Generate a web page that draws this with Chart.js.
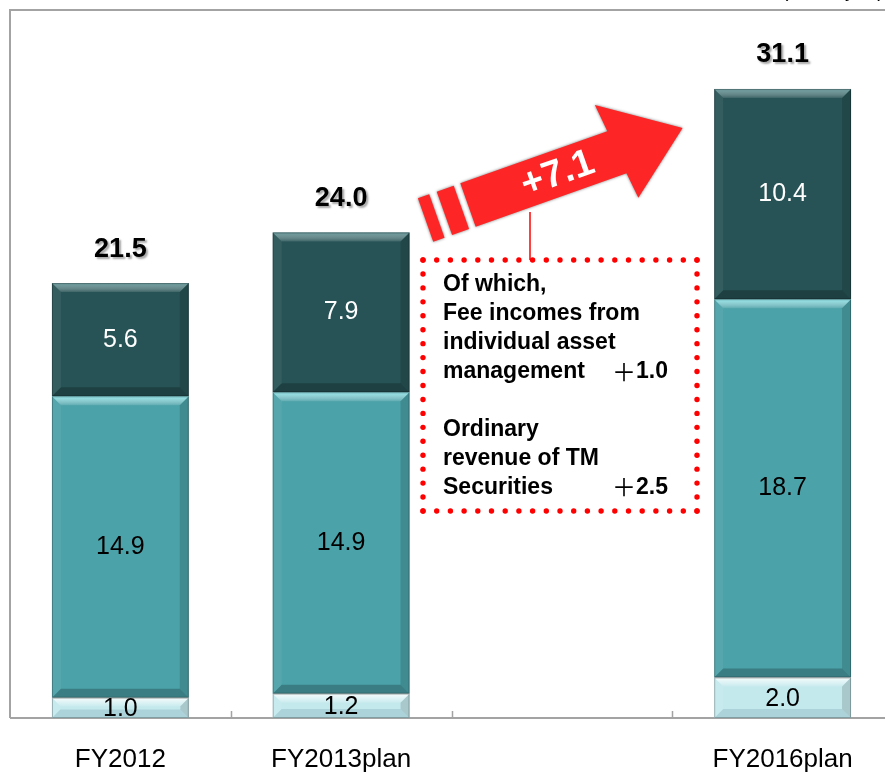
<!DOCTYPE html>
<html lang="en">
<head>
<meta charset="UTF-8">
<title>Ordinary revenue</title>
<script src="https://cdn.jsdelivr.net/npm/chart.js@4/dist/chart.umd.min.js"></script>
<style>
    html, body { margin: 0; padding: 0; background: #fff; overflow: hidden; }
    .wrap { width: 895px; height: 774px; position: relative; }
</style>
</head>
<body>
<div class="wrap">
    <canvas id="chartRevenue"></canvas>
</div>
<script>
    // values per fiscal year (the third slot is left empty as a spacer)
    var categories = ['FY2012', 'FY2013plan', '', 'FY2016plan'];
    var baseValues = [1.0, 1.2, null, 2.0];
    var midValues = [14.9, 14.9, null, 18.7];
    var topValues = [5.6, 7.9, null, 10.4];
    var totals = [21.5, 24.0, null, 31.1];

    var arrowText = '+7.1';
    var noteLines = [
        ['Of which,', ''],
        ['Fee incomes from', ''],
        ['individual asset', ''],
        ['management', '1.0'],
        ['', ''],
        ['Ordinary', ''],
        ['revenue of TM', ''],
        ['Securities', '2.5']
    ];
    var unitText = '(billion yen)';

    var colors = {
        base: '#c4e9ed',
        mid: '#4ba2a8',
        top: '#275356'
    };
    var highlights = ['rgba(255,255,255,0.85)', 'rgba(150,235,240,0.9)', 'rgba(120,170,172,0.8)'];

    var FONT = '"Liberation Sans", Arial, sans-serif';

    // bevelled look on every bar segment
    var bevel = {
        id: 'bevel',
        afterDatasetsDraw: function (chart) {
            var ctx = chart.ctx;
            chart.data.datasets.forEach(function (ds, di) {
                chart.getDatasetMeta(di).data.forEach(function (bar, i) {
                    if (ds.data[i] == null) return;
                    var p = bar.getProps(['x', 'y', 'base', 'width'], true);
                    var l = p.x - p.width / 2, r = p.x + p.width / 2;
                    var t = Math.min(p.y, p.base), b = Math.max(p.y, p.base);
                    var e = Math.min(9, (b - t) / 2.4);
                    ctx.save();
                    var g = ctx.createLinearGradient(0, t, 0, t + e);
                    g.addColorStop(0, highlights[di]);
                    g.addColorStop(1, 'rgba(255,255,255,0.1)');
                    quad(ctx, l, t, r, t, r - e, t + e, l + e, t + e, g);
                    quad(ctx, l, b, r, b, r - e, b - e, l + e, b - e, di === 0 ? 'rgba(0,60,70,0.12)' : 'rgba(0,0,0,0.22)');
                    quad(ctx, l, t, l + e, t + e, l + e, b - e, l, b, 'rgba(255,255,255,0.06)');
                    quad(ctx, r, t, r - e, t + e, r - e, b - e, r, b, 'rgba(0,0,0,0.14)');
                    ctx.strokeStyle = 'rgba(0,0,0,0.25)';
                    ctx.lineWidth = 1;
                    ctx.strokeRect(l + 0.5, t + 0.5, p.width - 1, b - t - 1);
                    ctx.restore();
                });
            });
        }
    };

    function quad(ctx, x1, y1, x2, y2, x3, y3, x4, y4, fill) {
        ctx.beginPath();
        ctx.moveTo(x1, y1);
        ctx.lineTo(x2, y2);
        ctx.lineTo(x3, y3);
        ctx.lineTo(x4, y4);
        ctx.closePath();
        ctx.fillStyle = fill;
        ctx.fill();
    }

    // frame, axis line and inner tick marks
    var frame = {
        id: 'frame',
        beforeDatasetsDraw: function (chart) {
            var ctx = chart.ctx, a = chart.chartArea, xs = chart.scales.x;
            ctx.save();
            ctx.strokeStyle = '#a3a3a3';
            ctx.lineWidth = 2;
            ctx.beginPath();
            ctx.moveTo(a.left, a.bottom);
            ctx.lineTo(a.left, a.top);
            ctx.lineTo(chart.width, a.top);
            ctx.stroke();
            ctx.beginPath();
            ctx.moveTo(a.left, a.bottom);
            ctx.lineTo(chart.width, a.bottom);
            ctx.stroke();
            ctx.lineWidth = 1.5;
            for (var i = 0; i < categories.length - 1; i++) {
                var bx = Math.round((xs.getPixelForValue(i) + xs.getPixelForValue(i + 1)) / 2) + 0.5;
                ctx.beginPath();
                ctx.moveTo(bx, a.bottom);
                ctx.lineTo(bx, a.bottom - 7);
                ctx.stroke();
            }
            ctx.restore();
        }
    };

    // segment values and totals
    var labels = {
        id: 'labels',
        afterDatasetsDraw: function (chart) {
            var ctx = chart.ctx, ys = chart.scales.y, xs = chart.scales.x;
            ctx.save();
            ctx.textAlign = 'center';
            ctx.textBaseline = 'middle';
            ctx.font = '25px ' + FONT;
            chart.data.datasets.forEach(function (ds, di) {
                chart.getDatasetMeta(di).data.forEach(function (bar, i) {
                    if (ds.data[i] == null) return;
                    var p = bar.getProps(['x', 'y', 'base'], true);
                    ctx.fillStyle = di === 2 ? '#ffffff' : '#000000';
                    var cy = (p.y + p.base) / 2;
                    if (di === 0) cy += 1;
                    ctx.fillText(ds.data[i].toFixed(1), p.x, cy);
                });
            });
            ctx.font = 'bold 27px ' + FONT;
            ctx.shadowColor = 'rgba(0,0,0,0.35)';
            ctx.shadowOffsetX = 2;
            ctx.shadowOffsetY = 2;
            ctx.shadowBlur = 2;
            ctx.fillStyle = '#000';
            totals.forEach(function (v, i) {
                if (v == null) return;
                ctx.fillText(v.toFixed(1), xs.getPixelForValue(i), ys.getPixelForValue(v) - 34);
            });
            ctx.restore();
        }
    };

    // growth arrow and the dotted note box
    var note = {
        id: 'note',
        afterDraw: function (chart) {
            var ctx = chart.ctx;
            ctx.save();

            // unit text at the top right, mostly above the canvas
            ctx.font = '20px ' + FONT;
            ctx.fillStyle = '#000';
            ctx.textAlign = 'right';
            ctx.textBaseline = 'bottom';
            ctx.fillText(unitText, 884, 1);

            // connector line
            ctx.strokeStyle = '#ff0000';
            ctx.lineWidth = 1.5;
            ctx.beginPath();
            ctx.moveTo(530, 212);
            ctx.lineTo(530, 260);
            ctx.stroke();

            // arrow
            ctx.save();
            ctx.translate(468, 205);
            ctx.rotate(-19.5 * Math.PI / 180);
            ctx.shadowColor = 'rgba(0,0,0,0.55)';
            ctx.shadowBlur = 3;
            ctx.fillStyle = '#fd2525';
            ctx.beginPath();
            ctx.moveTo(0, -23);
            ctx.lineTo(156, -23);
            ctx.lineTo(153, -52);
            ctx.lineTo(228, -1);
            ctx.lineTo(163, 50);
            ctx.lineTo(160, 23);
            ctx.lineTo(0, 23);
            ctx.closePath();
            ctx.fill();
            ctx.fillRect(-25, -23, 18, 46);
            ctx.fillRect(-45, -23, 12, 46);
            ctx.shadowColor = 'transparent';
            ctx.fillStyle = '#fff';
            ctx.font = 'bold 38px ' + FONT;
            ctx.textAlign = 'center';
            ctx.textBaseline = 'middle';
            ctx.fillText(arrowText, 95, 1);
            ctx.restore();

            // dotted box
            var x0 = 423, y0 = 260, x1 = 697, y1 = 511, step = 13.6;
            ctx.fillStyle = '#ff0000';
            function dots(ax, ay, bx, by) {
                var len = Math.hypot(bx - ax, by - ay);
                var n = Math.round(len / step);
                for (var k = 0; k <= n; k++) {
                    ctx.beginPath();
                    ctx.arc(ax + (bx - ax) * k / n, ay + (by - ay) * k / n, 2.7, 0, Math.PI * 2);
                    ctx.fill();
                }
            }
            dots(x0, y0, x1, y0);
            dots(x0, y1, x1, y1);
            dots(x0, y0, x0, y1);
            dots(x1, y0, x1, y1);

            // note text, with a full-width plus before each increase
            ctx.fillStyle = '#000';
            ctx.textBaseline = 'middle';
            noteLines.forEach(function (line, k) {
                var ly = 285 + k * 28.9;
                ctx.font = 'bold 23px ' + FONT;
                ctx.textAlign = 'left';
                ctx.fillText(line[0], 443, ly);
                if (line[1]) {
                    ctx.textAlign = 'right';
                    ctx.fillText(line[1], 668, ly);
                    var w = ctx.measureText(line[1]).width;
                    ctx.font = '24px "Noto Sans CJK JP", sans-serif';
                    ctx.fillText('＋', 668 - w, ly);
                }
            });
            ctx.restore();
        }
    };

    var config = {
        type: 'bar',
        data: {
            labels: categories,
            datasets: [
                { data: baseValues, backgroundColor: colors.base },
                { data: midValues, backgroundColor: colors.mid },
                { data: topValues, backgroundColor: colors.top }
            ]
        },
        options: {
            responsive: true,
            maintainAspectRatio: false,
            animation: false,
            layout: { padding: { left: 10, right: 2, top: 10, bottom: 0 } },
            datasets: {
                bar: { categoryPercentage: 1, barPercentage: 0.62, borderWidth: 0 }
            },
            plugins: {
                legend: { display: false },
                tooltip: { enabled: false }
            },
            scales: {
                x: {
                    stacked: true,
                    grid: { display: false },
                    border: { display: false },
                    ticks: {
                        color: '#000',
                        padding: 18,
                        font: { family: FONT, size: 26 }
                    },
                    afterFit: function (s) { s.height = 56; }
                },
                y: {
                    stacked: true,
                    display: false,
                    min: 0,
                    max: 35
                }
            }
        },
        plugins: [frame, bevel, labels, note]
    };

    var ctx = document.getElementById('chartRevenue').getContext('2d');
    window.myBar = new Chart(ctx, config);
</script>
</body>
</html>
